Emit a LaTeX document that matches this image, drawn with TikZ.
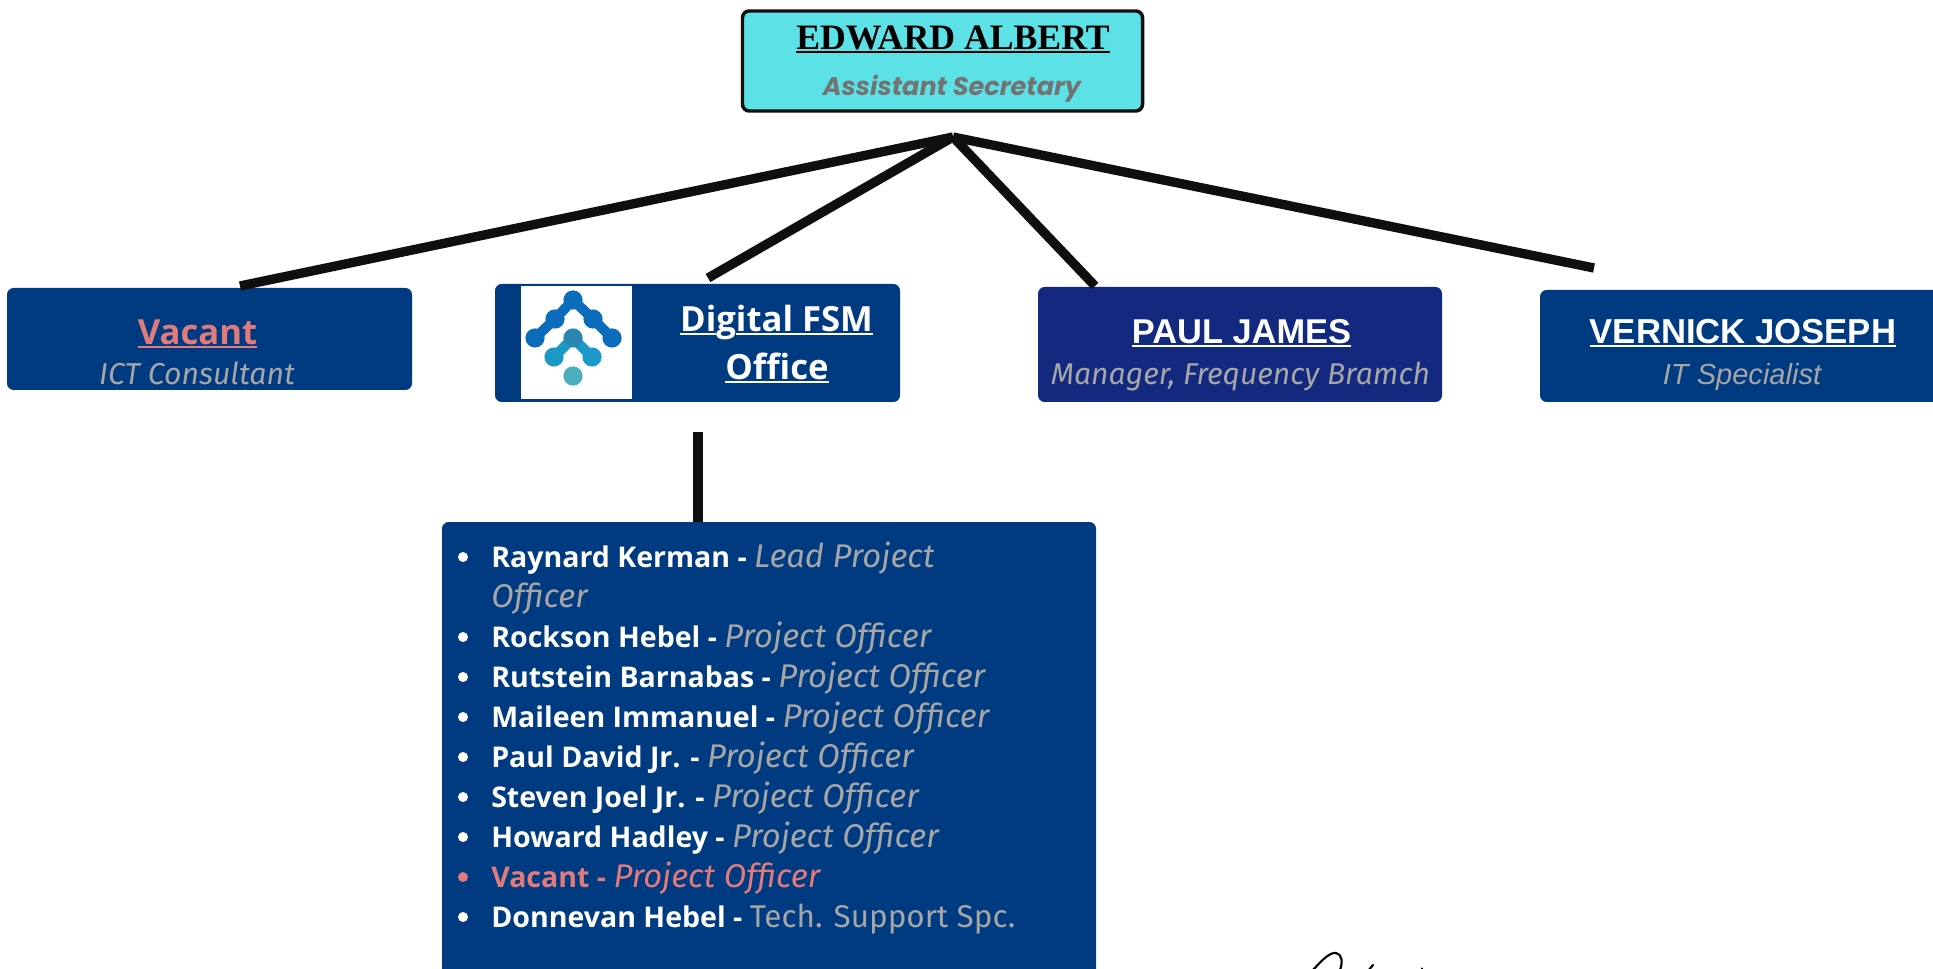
\documentclass[tikz,border=0pt]{standalone}
\usepackage{fontspec}
\setmainfont{Open Sans}
\newfontfamily\serifx{Liberation Serif}
\newfontfamily\arialx{Liberation Sans}
\newfontfamily\popx{Poppins}
\newfontfamily\firax{Fira Sans}
\newcommand\fsz[1]{\fontsize{#1}{#1}\selectfont}
\newcommand\ulx[2][white]{\setbox0\hbox{#2}\rlap{\textcolor{#1}{\rule[-2.4pt]{\wd0}{1.9pt}}}\box0 }
\definecolor{navy}{HTML}{003A80}
\definecolor{deep}{HTML}{13287F}
\definecolor{cyanbox}{HTML}{5CE1E6}
\definecolor{ink}{HTML}{100F0D}
\definecolor{greyt}{HTML}{A6A6A6}
\definecolor{pinkt}{HTML}{E27B7B}
\definecolor{subt}{HTML}{737373}
\definecolor{logoa}{HTML}{0B6CBB}
\definecolor{logob}{HTML}{1A98C8}
\definecolor{logoc}{HTML}{4AAEBF}
\definecolor{logom}{HTML}{2A85B0}
\tikzset{
  x=0.75pt,y=-0.75pt,
  panel/.style={fill=navy,rounded corners=5pt,inner sep=0pt,draw=none},
  chief/.style={fill=cyanbox,draw=ink,line width=2.6pt,rounded corners=5pt,inner sep=0pt},
  link/.style={ink,line width=7pt},
  label/.style={anchor=base,inner sep=0pt,text=white},
  entry/.style={anchor=base west,inner sep=0pt,text=white,font=\fsz{21.4pt}\bfseries},
  bul/.style={circle,fill=white,inner sep=0pt,minimum size=7.5pt},
  logoline/.style={line width=7.5pt,line cap=round},
  logodot/.style={circle,inner sep=0pt,minimum size=14.4pt}
}
\newcommand\role[1]{\textcolor{greyt}{\firax\mdseries\itshape\fsz{24.6pt}#1}}
\begin{document}
\begin{tikzpicture}
\clip (0,0) rectangle (1933,969);
\fill[white] (0,0) rectangle (1933,969);
% connector ends
\coordinate (apex) at (953,137);
\coordinate (endA) at (240,286);
\coordinate (endB) at (708,278);
\coordinate (endC) at (1095,286);
\coordinate (endD) at (1594,268);
\coordinate (endE) at (698,432);
% boxes
\node[chief,minimum width={400*0.75pt},minimum height={100*0.75pt}] (boss) at (942.5,61) {};
\node[panel,minimum width={405*0.75pt},minimum height={102*0.75pt}] (vac) at (209.5,339) {};
\node[panel,minimum width={405*0.75pt},minimum height={118*0.75pt}] (dig) at (697.5,343) {};
\node[panel,fill=deep,minimum width={404*0.75pt},minimum height={115*0.75pt}] (paul) at (1240,344.5) {};
\node[panel,minimum width={420*0.75pt},minimum height={112*0.75pt}] (vern) at (1750,346) {};
\node[panel,minimum width={654*0.75pt},minimum height={520*0.75pt}] (team) at (769,782) {};
% connectors
\draw[link] (apex) -- (endA);
\draw[link] (apex) -- (endB);
\draw[link] (apex) -- (endC);
\draw[link] (apex) -- (endD);
\draw[link] (endE) -- (team.north -| endE);
% top box text
\node[label,text=black,font=\serifx\fsz{26.8pt}\bfseries] (bossn) at (953,50) {\ulx[black]{EDWARD ALBERT}};
\node[label,text=subt,font=\popx\fsz{19.1pt}\bfseries\itshape] (bossr) at (952,96) {Assistant Secretary};
% vacant
\node[label,text=pinkt,font=\fsz{26pt}\bfseries] (vacn) at (197.5,345) {\ulx[pinkt]{Vacant}};
\node[label,text=greyt,font=\firax\fsz{22.7pt}\itshape] (vacr) at (197,385) {ICT Consultant};
% digital
\node[label,font=\fsz{26pt}\bfseries] (digA) at (776.5,332) {\ulx{Di}g\ulx{ital FSM}};
\node[label,font=\fsz{26pt}\bfseries] (digB) at (777,380) {\ulx{Office}};
% logo
\node[fill=white,inner sep=0pt,minimum width={111*0.75pt},minimum height={113*0.75pt}] (logo) at (576.5,342.5) {};
\begin{scope}
\draw[logoline,logoa] (535,338) -- (555,319) -- (573,300) -- (593,319) -- (612,338);
\draw[logoline,logob] (554,357) -- (573,338) -- (592,357);
\node[logodot,fill=logoa] (la1) at (573,300) {};
\node[logodot,fill=logoa] (la2) at (555,319) {};
\node[logodot,fill=logoa] (la3) at (535,338) {};
\node[logodot,fill=logoa] (la4) at (593,319) {};
\node[logodot,fill=logoa] (la5) at (612,338) {};
\node[logodot,fill=logom] (lb1) at (573,338) {};
\node[logodot,fill=logob] (lb2) at (554,357) {};
\node[logodot,fill=logob] (lb3) at (592,357) {};
\node[logodot,fill=logoc] (lc1) at (573,376) {};
\end{scope}
% paul
\node[label,font=\arialx\fsz{25.8pt}\bfseries] (pauln) at (1241.5,344) {\ulx{PAUL JAMES}};
\node[label,text=greyt,font=\firax\fsz{22.6pt}\itshape] (paulr) at (1240.5,385) {Manager, Frequency Bramch};
% vernick
\node[label,font=\arialx\fsz{26pt}\bfseries] (vernn) at (1743,344) {\ulx{VERNICK JOSEPH}};
\node[label,text=greyt,font=\arialx\fsz{21.8pt}\itshape] (vernr) at (1742,385) {IT Specialist};
% list
\node[entry] (e1) at (491,567) {Raynard Kerman - \role{Lead Project}};
\node[entry] (e1b) at (491,607) {\role{Officer}};
\node[entry] (e2) at (491,647) {Rockson Hebel - \role{Project Officer}};
\node[entry] (e3) at (491,687) {Rutstein Barnabas - \role{Project Officer}};
\node[entry] (e4) at (491,727) {Maileen Immanuel - \role{Project Officer}};
\node[entry] (e5) at (491,767) {Paul David Jr. - \role{Project Officer}};
\node[entry] (e6) at (491,807) {Steven Joel Jr. - \role{Project Officer}};
\node[entry] (e7) at (491,847) {Howard Hadley - \role{Project Officer}};
\node[entry,text=pinkt] (e8) at (491,887) {Vacant - {\firax\mdseries\itshape\fsz{24.6pt}Project Officer}};
\node[entry] (e9) at (491,927) {Donnevan Hebel - \textcolor{greyt}{\firax\mdseries\fsz{23.6pt}Tech. Support Spc.}};
\foreach \n/\y in {1/557,2/637,3/677,4/717,5/757,6/797,7/837,9/917}{
  \node[bul] (b\n) at (463,\y) {};
}
\node[bul,fill=pinkt] (b8) at (463,877) {};
% signature
\draw[black,line width=1.6pt,line cap=round] (1313,970) .. controls (1322,960) and (1330,952) .. (1336,953) .. controls (1342,954) and (1343,962) .. (1340,970);
\draw[black,line width=1.6pt,line cap=round] (1373,965) -- (1368,971);
\fill[black] (1422,968.5) circle (1.2);
\end{tikzpicture}
\end{document}
